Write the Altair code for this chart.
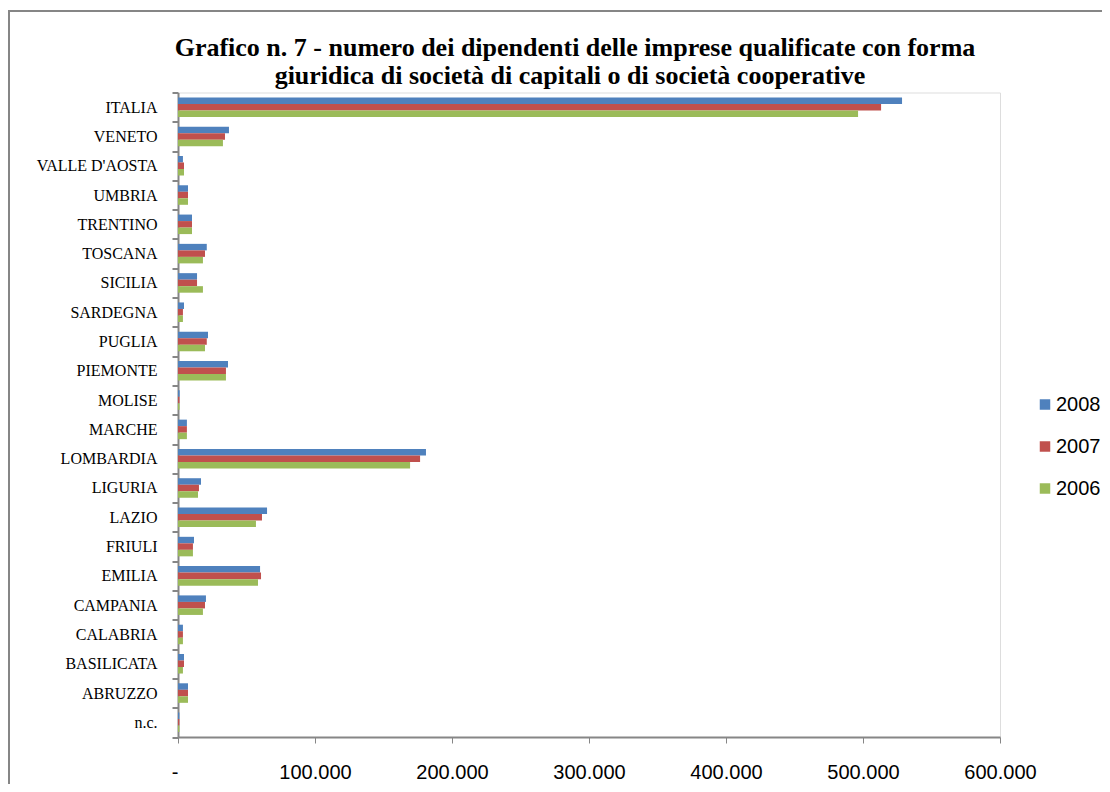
import altair as alt
import pandas as pd

regions = ["ITALIA", "VENETO", "VALLE D'AOSTA", "UMBRIA", "TRENTINO", "TOSCANA",
           "SICILIA", "SARDEGNA", "PUGLIA", "PIEMONTE", "MOLISE", "MARCHE",
           "LOMBARDIA", "LIGURIA", "LAZIO", "FRIULI", "EMILIA", "CAMPANIA",
           "CALABRIA", "BASILICATA", "ABRUZZO", "n.c."]
values_2008 = [528500, 37200, 3600, 7300, 10200, 21000, 13900, 4400, 21900, 36500,
               1200, 6500, 181000, 16800, 65000, 11700, 59900, 20400, 3600, 4400, 7300, 1000]
values_2007 = [513200, 34300, 4400, 7300, 10200, 19700, 13900, 3600, 21000, 35000,
               1100, 6500, 176700, 15300, 61300, 10900, 60600, 19700, 3600, 4400, 7300, 1000]
values_2006 = [496400, 32800, 4400, 7300, 10200, 18200, 18200, 3600, 19700, 35000,
               1100, 6500, 169400, 14600, 56900, 10900, 58400, 18200, 3600, 3600, 7300, 1000]
years = ["2008", "2007", "2006"]
colors = ["#4F81BD", "#C0504D", "#9BBB59"]
x_ticks = [0, 100000, 200000, 300000, 400000, 500000, 600000]
title_lines = ["Grafico n. 7 - numero dei dipendenti delle imprese qualificate con forma",
               "giuridica di società di capitali o di società cooperative"]

rows = []
for year, vals in zip(years, [values_2008, values_2007, values_2006]):
    for r, v in zip(regions, vals):
        rows.append({"regione": r, "anno": year, "valore": v})
df = pd.DataFrame(rows)

AXIS_GRAY = "#868686"

bars = alt.Chart(df).mark_bar().encode(
    y=alt.Y("regione:N", sort=regions, title=None,
            scale=alt.Scale(paddingInner=0, paddingOuter=0),
            axis=alt.Axis(tickBand="extent", domainColor=AXIS_GRAY, domainWidth=2,
                          tickColor=AXIS_GRAY, tickWidth=2, tickSize=6,
                          labelFont="Liberation Serif", labelFontSize=16,
                          labelColor="#000000", labelPadding=15)),
    yOffset=alt.YOffset("anno:N", sort=years,
                        scale=alt.Scale(paddingOuter=0.75, paddingInner=0)),
    x=alt.X("valore:Q", title=None,
            scale=alt.Scale(domain=[0, 600000], nice=False),
            axis=alt.Axis(values=x_ticks, grid=False, domainColor=AXIS_GRAY,
                          domainWidth=2, tickColor=AXIS_GRAY, tickWidth=1, tickSize=6,
                          labelFont="Liberation Sans",
                          labelFontSize=20, labelColor="#000000", labelPadding=19,
                          labelAlign={"condition": {"test": "datum.value == 0", "value": "right"},
                                      "value": "center"},
                          labelExpr="datum.value == 0 ? '-' : replace(format(datum.value, ','), ',', '.')")),
    color=alt.Color("anno:N", sort=years,
                    scale=alt.Scale(domain=years, range=colors),
                    legend=alt.Legend(title=None, orient="none", legendX=857, legendY=302,
                                      symbolType="square", symbolSize=110,
                                      symbolStrokeWidth=0, labelFont="Liberation Sans",
                                      labelFontSize=20, labelColor="#000000",
                                      labelOffset=1, rowPadding=22, padding=0)),
)

frame = alt.Chart(alt.Data(values=[{"k": 1}])).mark_rect(
    fill=None, stroke=AXIS_GRAY, strokeWidth=2
).encode(
    x=alt.value(-169), x2=alt.value(1000), y=alt.value(-81.5), y2=alt.value(800)
)

title1 = alt.Chart(alt.Data(values=[{"t": title_lines[0]}])).mark_text(
    font="Liberation Serif", fontSize=26, fontWeight="bold", color="#000000",
    align="center", baseline="alphabetic"
).encode(x=alt.value(397), y=alt.value(-36.5), text="t:N")

title2 = alt.Chart(alt.Data(values=[{"t": title_lines[1]}])).mark_text(
    font="Liberation Serif", fontSize=26, fontWeight="bold", color="#000000",
    align="center", baseline="alphabetic"
).encode(x=alt.value(392), y=alt.value(-8.5), text="t:N")

chart = alt.layer(frame, bars, title1, title2).properties(
    width=822,
    height=644.5,
    padding={"left": 170, "top": 84.5, "right": 102, "bottom": 47},
    autosize=alt.AutoSizeParams(type="none"),
).configure_view(stroke="transparent", strokeWidth=0).configure(background="white")

chart.save("out.html", embed_options={"renderer": "svg", "actions": False})
